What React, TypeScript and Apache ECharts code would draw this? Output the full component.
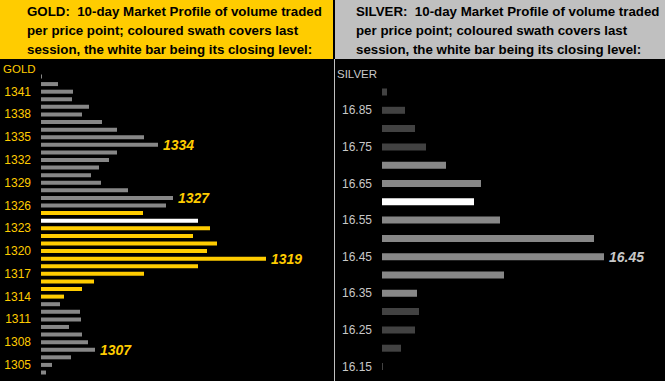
import React, { useEffect, useRef } from "react";
import * as echarts from "echarts";

// ---- GOLD data (top to bottom) ----
const goldPrices = [
  "1343", "1342", "1341", "1340", "1339", "1338", "1337", "1336", "1335", "1334",
  "1333", "1332", "1331", "1330", "1329", "1328", "1327", "1326", "1325", "1324",
  "1323", "1322", "1321", "1320", "1319", "1318", "1317", "1316", "1315", "1314",
  "1313", "1312", "1311", "1310", "1309", "1308", "1307", "1306", "1305", "1304",
];
const goldVolumes = [
  1, 17, 32, 31, 48, 41, 61, 76, 103, 117,
  76, 68, 58, 50, 60, 87, 132, 125, 102, 157,
  169, 152, 176, 166, 225, 157, 103, 53, 41, 23,
  19, 39, 40, 28, 41, 47, 54, 30, 11, 5,
];
const goldSessionHigh = 1325;
const goldSessionLow = 1314;
const goldClose = 1324;
const goldMarked = [1334, 1327, 1319, 1307];

// ---- SILVER data (top to bottom) ----
const silverPrices = [
  "16.90", "16.85", "16.80", "16.75", "16.70", "16.65", "16.60", "16.55",
  "16.50", "16.45", "16.40", "16.35", "16.30", "16.25", "16.20", "16.15",
];
const silverVolumes = [5, 23, 33, 44, 64, 99, 92, 118, 212, 222, 122, 35, 37, 33, 19, 1];
const silverSessionHigh = 16.7;
const silverSessionLow = 16.35;
const silverClose = 16.6;
const silverMarked = [16.45];

const goldHeader = [
  "GOLD:  10-day Market Profile of volume traded",
  "per price point; coloured swath covers last",
  "session, the white bar being its closing level:",
];
const silverHeader = [
  "SILVER:  10-day Market Profile of volume traded",
  "per price point; coloured swath covers last",
  "session, the white bar being its closing level:",
];

const YELLOW = "#FFCC00";
const GRAY = "#878787";
const DARK = "#424242";
const SILVERTXT = "#C8C8C8";
const AXISFONT = "Arial, 'Liberation Sans', sans-serif";

export default function App() {
  const ref = useRef<HTMLDivElement>(null);
  useEffect(() => {
    if (!ref.current) return;
    const chart = echarts.init(ref.current, null, { renderer: "svg" });

    const goldData = goldVolumes.map((v, i) => {
      const p = Number(goldPrices[i]);
      let color = GRAY;
      if (p === goldClose) color = "#FFFFFF";
      else if (p <= goldSessionHigh && p >= goldSessionLow) color = YELLOW;
      const item: any = { value: v, itemStyle: { color } };
      if (goldMarked.includes(p)) {
        item.label = {
          show: true,
          position: "right",
          distance: 5,
          formatter: goldPrices[i],
          color: YELLOW,
          fontSize: 14,
          fontWeight: "bold",
          fontStyle: "italic",
          fontFamily: "Arial, sans-serif",
        };
      }
      return item;
    });

    const silverData = silverVolumes.map((v, i) => {
      const p = Number(silverPrices[i]);
      let color = DARK;
      if (Math.abs(p - silverClose) < 1e-6) color = "#FFFFFF";
      else if (p <= silverSessionHigh + 1e-6 && p >= silverSessionLow - 1e-6) color = GRAY;
      const item: any = { value: v, itemStyle: { color } };
      if (silverMarked.some((m) => Math.abs(m - p) < 1e-6)) {
        item.label = {
          show: true,
          position: "right",
          distance: 5,
          formatter: silverPrices[i],
          color: SILVERTXT,
          fontSize: 14,
          fontWeight: "bold",
          fontStyle: "italic",
          fontFamily: "Arial, sans-serif",
        };
      }
      return item;
    });

    const headerTexts = (lines: string[], x: number) =>
      lines.map((t, i) => ({
        type: "text",
        left: x,
        top: 5 + i * 19,
        style: {
          text: t,
          fill: "#000",
          font: "bold 13.3px Arial, sans-serif",
        },
      }));

    chart.setOption({
      animation: false,
      backgroundColor: "#000",
      graphic: [
        { type: "rect", shape: { x: 0, y: 0, width: 333, height: 59 }, style: { fill: YELLOW } },
        { type: "rect", shape: { x: 335, y: 0, width: 330, height: 59 }, style: { fill: "#C0C0C0" } },
        {
          type: "line",
          shape: { x1: 334.5, y1: 59, x2: 334.5, y2: 381 },
          style: { stroke: "#C0C0C0", lineWidth: 1 },
        },
        ...headerTexts(goldHeader, 27),
        ...headerTexts(silverHeader, 356),
        {
          type: "text",
          left: 3,
          top: 63,
          style: { text: "GOLD", fill: YELLOW, font: `11.5px ${AXISFONT}` },
        },
        {
          type: "text",
          left: 337,
          top: 68,
          style: { text: "SILVER", fill: SILVERTXT, font: `11.5px ${AXISFONT}` },
        },
      ],
      grid: [
        { left: 41, top: 72.7, width: 280, height: 303.6 },
        { left: 382, top: 82.85, width: 270, height: 292.8 },
      ],
      xAxis: [
        { type: "value", gridIndex: 0, min: 0, max: 280, show: false },
        { type: "value", gridIndex: 1, min: 0, max: 270, show: false },
      ],
      yAxis: [
        {
          type: "category",
          gridIndex: 0,
          inverse: true,
          data: goldPrices,
          axisLine: { show: false },
          axisTick: { show: false },
          splitLine: { show: false },
          axisLabel: {
            interval: (idx: number, val: string) => (1341 - Number(val)) % 3 === 0,
            color: YELLOW,
            fontSize: 12,
            fontFamily: AXISFONT,
            margin: 10,
          },
        },
        {
          type: "category",
          gridIndex: 1,
          inverse: true,
          data: silverPrices,
          axisLine: { show: false },
          axisTick: { show: false },
          splitLine: { show: false },
          axisLabel: {
            interval: (idx: number) => idx % 2 === 1,
            color: SILVERTXT,
            fontSize: 12,
            fontFamily: AXISFONT,
            margin: 10,
          },
        },
      ],
      series: [
        {
          type: "bar",
          xAxisIndex: 0,
          yAxisIndex: 0,
          data: goldData,
          barWidth: 4,
        },
        {
          type: "bar",
          xAxisIndex: 1,
          yAxisIndex: 1,
          data: silverData,
          barWidth: 7,
        },
      ],
    });
    return () => chart.dispose();
  }, []);
  return (
    <div
      ref={ref}
      style={{ position: "fixed", left: 0, top: 0, width: 665, height: 381 }}
    />
  );
}
